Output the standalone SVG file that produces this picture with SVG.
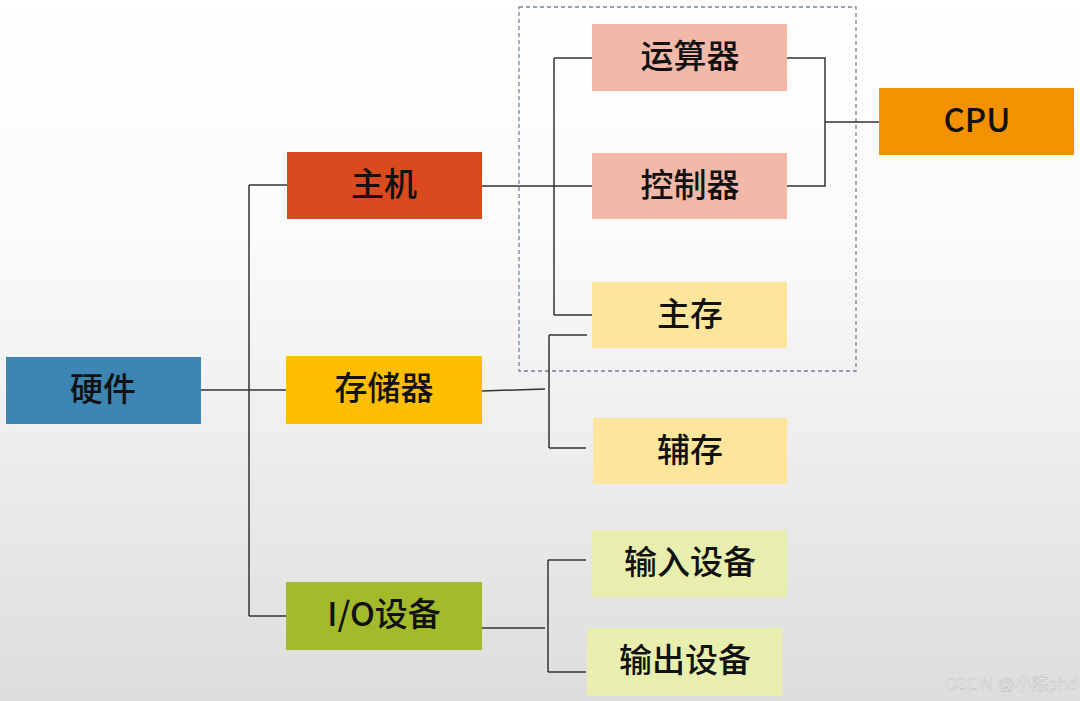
<svg xmlns="http://www.w3.org/2000/svg" width="1080" height="701" viewBox="0 0 1080 701">
<defs>
<linearGradient id="bg" x1="0" y1="0" x2="0" y2="1">
<stop offset="0" stop-color="#ffffff"/>
<stop offset="0.35" stop-color="#fafafa"/>
<stop offset="1" stop-color="#dddddd"/>
</linearGradient>
<style>
.t{font-family:"Noto Sans CJK SC","Noto Sans",sans-serif;font-size:33px;font-weight:500;fill:#111;text-anchor:middle;dominant-baseline:central}
.c{fill:none;stroke:#333;stroke-width:1.5}
</style>
</defs>
<rect width="1080" height="701" fill="url(#bg)"/>
<rect x="519" y="7" width="337" height="364" fill="none" stroke="#74849a" stroke-width="1.3" stroke-dasharray="4 3"/>
<g id="connectors">
<path class="c" d="M201 390H249M249 185V616M249 185H287M249 390H286M249 616H286"/>
<path class="c" d="M482 186H592M554 58V315M554 58H592M554 315H592"/>
<path class="c" d="M787 58H825V186H787M825 122H879"/>
<path class="c" d="M482 391L545 389M549 335V448M549 335H587M549 448H586"/>
<path class="c" d="M482 628H545M548 560V672M548 560H586M548 672H586"/>
</g>
<g id="n-yingjian"><rect x="6" y="357" width="195" height="67" fill="#3d85b3"/><text class="t" x="103" y="387">硬件</text></g>
<g id="n-zhuji"><rect x="287" y="152" width="195" height="67" fill="#d94a1f"/><text class="t" x="384" y="182">主机</text></g>
<g id="n-cunchuqi"><rect x="286" y="356" width="196" height="68" fill="#fdbf00"/><text class="t" x="384" y="386">存储器</text></g>
<g id="n-io"><rect x="286" y="582" width="196" height="68" fill="#a3ba2b"/><text class="t" x="384" y="612">I/O设备</text></g>
<g id="n-yunsuanqi"><rect x="592" y="24" width="195" height="67" fill="#f2b9a8"/><text class="t" x="690" y="54">运算器</text></g>
<g id="n-kongzhiqi"><rect x="592" y="153" width="195" height="66" fill="#f2b9a8"/><text class="t" x="690" y="183">控制器</text></g>
<g id="n-zhucun"><rect x="592" y="282" width="195" height="66" fill="#fde59c"/><text class="t" x="690" y="312">主存</text></g>
<g id="n-fucun"><rect x="593" y="418" width="194" height="66" fill="#fde59c"/><text class="t" x="690" y="448">辅存</text></g>
<g id="n-input"><rect x="592" y="530" width="195" height="67" fill="#e8efae"/><text class="t" x="690" y="560">输入设备</text></g>
<g id="n-output"><rect x="587" y="628" width="195" height="68" fill="#e8efae"/><text class="t" x="685" y="658">输出设备</text></g>
<g id="n-cpu"><rect x="879" y="88" width="195" height="67" fill="#f39200"/><text class="t" x="977" y="118" font-weight="400">CPU</text></g>
<text x="1077" y="690" font-family="'Liberation Sans','Noto Sans CJK SC',sans-serif" font-size="17" fill="#f2f2f2" stroke="#bdbdbd" stroke-width="0.5" text-anchor="end">CSDN @小陈phd</text>
</svg>
